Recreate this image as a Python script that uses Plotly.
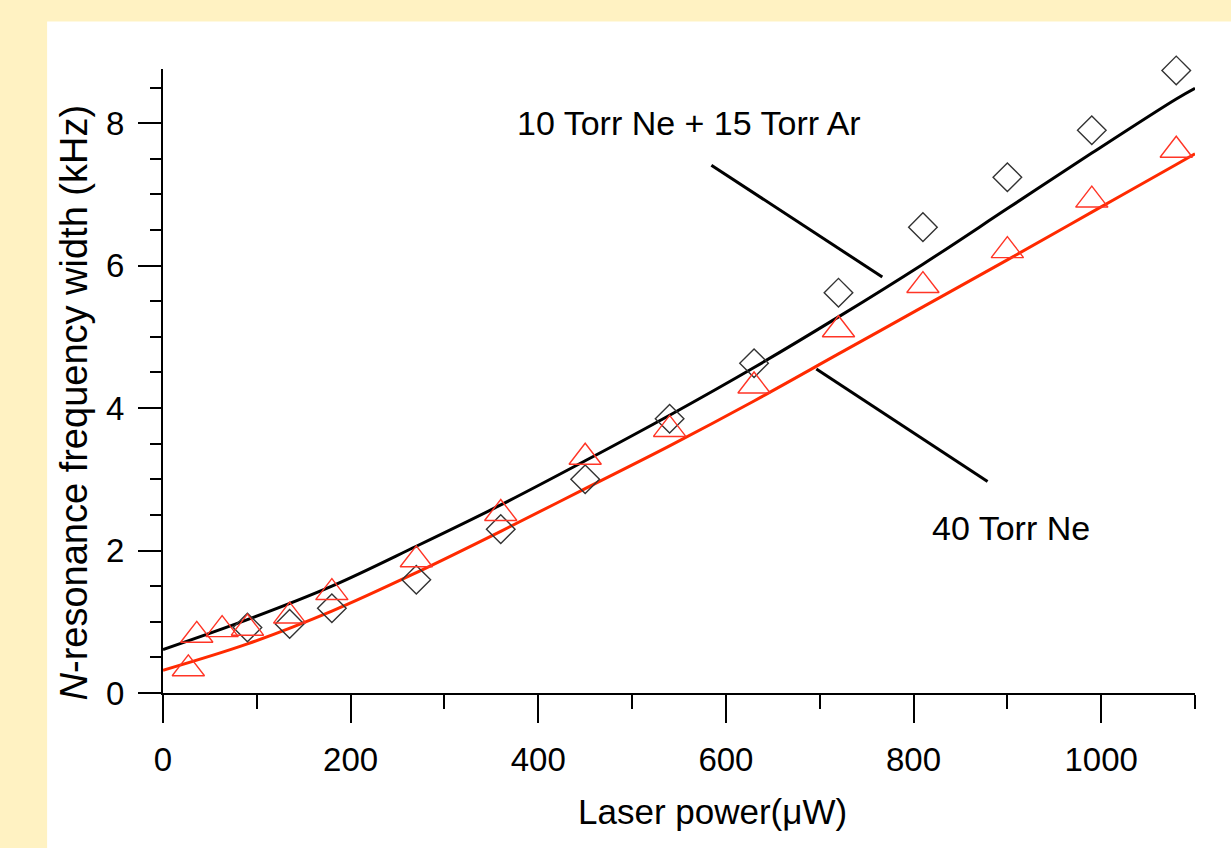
import plotly.graph_objects as go

# ---- data ----
ne_ar_power = [90, 135, 180, 270, 360, 450, 540, 630, 720, 810, 900, 990, 1080]
ne_ar_width = [0.92, 0.97, 1.19, 1.59, 2.30, 3.00, 3.85, 4.63, 5.62, 6.54, 7.24, 7.90, 8.74]

ne_power = [27, 36, 63, 90, 135, 180, 270, 360, 450, 540, 630, 720, 810, 900, 990, 1080]
ne_width = [0.34, 0.81, 0.89, 0.91, 1.08, 1.41, 1.87, 2.52, 3.31, 3.70, 4.31, 5.10, 5.72, 6.21, 6.92, 7.62]

fit_power = [0, 90, 180, 270, 360, 450, 540, 630, 720, 810, 900, 990, 1080, 1100]
fit_ne_ar = [0.61, 1.03, 1.50, 2.06, 2.64, 3.26, 3.90, 4.57, 5.28, 6.02, 6.80, 7.58, 8.34, 8.49]
fit_ne = [0.32, 0.69, 1.15, 1.69, 2.27, 2.87, 3.47, 4.10, 4.76, 5.42, 6.08, 6.75, 7.42, 7.57]

x_ticks = [0, 200, 400, 600, 800, 1000]
y_ticks = [0, 2, 4, 6, 8]

label_ne_ar = "10 Torr Ne + 15 Torr Ar"
label_ne = "40 Torr Ne"

FONT = "Arial, 'Liberation Sans', sans-serif"
RED_LINE = "#ff2a00"
RED_MARK = "#ff3526"

fig = go.Figure()

fig.add_trace(go.Scatter(x=fit_power, y=fit_ne_ar, mode="lines",
                         line=dict(color="black", width=3, shape="spline"),
                         showlegend=False, hoverinfo="skip"))
fig.add_trace(go.Scatter(x=fit_power, y=fit_ne, mode="lines",
                         line=dict(color=RED_LINE, width=3, shape="spline"),
                         showlegend=False, hoverinfo="skip"))
fig.add_trace(go.Scatter(x=ne_ar_power, y=ne_ar_width, mode="markers", cliponaxis=False,
                         marker=dict(symbol="diamond-open", size=22, color="#333333",
                                     line=dict(color="#333333", width=1.4)),
                         showlegend=False))
fig.add_trace(go.Scatter(x=ne_power, y=ne_width, mode="markers", cliponaxis=False,
                         marker=dict(symbol="triangle-up-open", size=28, color=RED_MARK,
                                     line=dict(color=RED_MARK, width=1.4)),
                         showlegend=False))

# pointer lines to the labels
fig.add_shape(type="line", xref="x", yref="y", x0=584.5, y0=7.41, x1=766.7, y1=5.84,
              line=dict(color="black", width=3))
fig.add_shape(type="line", xref="x", yref="y", x0=696.4, y0=4.55, x1=878.9, y1=2.97,
              line=dict(color="black", width=3))

# white panel over the yellow page
fig.add_shape(type="rect", xref="paper", yref="paper", x0=-0.1123, x1=1.06,
              y0=-0.30, y1=1.076, fillcolor="white", line=dict(width=0), layer="below")

fig.add_annotation(x=561, y=8.0, xref="x", yref="y", text=label_ne_ar, showarrow=False,
                   font=dict(family=FONT, size=34, color="black"), xanchor="center", yanchor="middle")
fig.add_annotation(x=904, y=2.31, xref="x", yref="y", text=label_ne, showarrow=False,
                   font=dict(family=FONT, size=34, color="black"), xanchor="center", yanchor="middle")

# axis titles
fig.add_annotation(x=0.532, y=-0.190, xref="paper", yref="paper", text="Laser power(\u03bcW)",
                   showarrow=False, font=dict(family=FONT, size=35, color="black"),
                   xanchor="center", yanchor="middle")
fig.add_annotation(x=-0.086, y=0.466, xref="paper", yref="paper",
                   text="<i>N</i>-resonance frequency width (kHz)", textangle=-90,
                   showarrow=False, font=dict(family=FONT, size=38, color="black"),
                   xanchor="center", yanchor="middle")

fig.update_xaxes(range=[0, 1100], tickvals=x_ticks, ticktext=[str(v) for v in x_ticks],
                 showgrid=False, zeroline=False, showline=True, linecolor="black", linewidth=2,
                 ticks="outside", ticklen=28, tickwidth=2, tickcolor="black",
                 minor=dict(dtick=100, tick0=0, ticks="outside", ticklen=14, tickwidth=2,
                            tickcolor="black", showgrid=False),
                 tickfont=dict(family=FONT, size=33, color="black"), ticklabelstandoff=8)
fig.update_yaxes(range=[0, 8.76], tickvals=y_ticks, ticktext=[str(v) for v in y_ticks],
                 showgrid=False, zeroline=False, showline=True, linecolor="black", linewidth=2,
                 ticks="outside", ticklen=23, tickwidth=2, tickcolor="black",
                 minor=dict(dtick=0.5, tick0=0, ticks="outside", ticklen=11, tickwidth=2,
                            tickcolor="black", showgrid=False),
                 tickfont=dict(family=FONT, size=33, color="black"), ticklabelstandoff=7)

fig.update_layout(width=1231, height=848, margin=dict(l=163, r=36, t=69, b=155),
                  paper_bgcolor="#fff2c2", plot_bgcolor="white", showlegend=False)

fig.write_html("out.html")
